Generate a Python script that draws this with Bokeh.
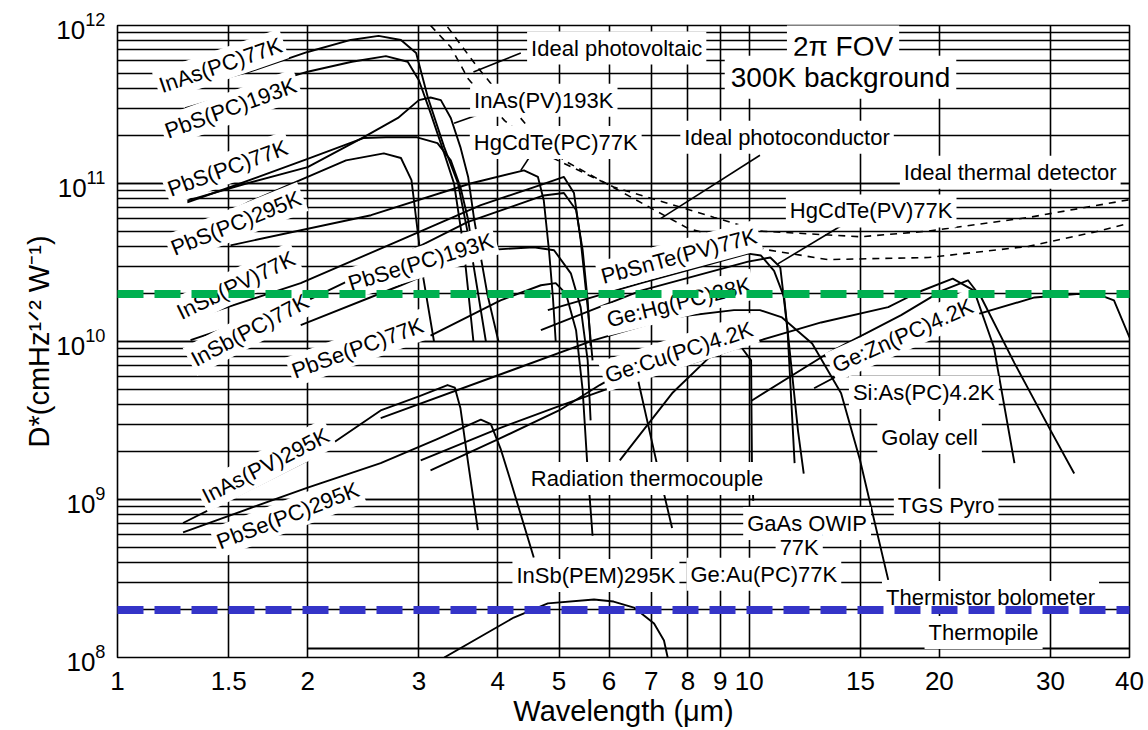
from bokeh.plotting import figure
from bokeh.models import Range1d, FixedTicker, NumeralTickFormatter, Label
from bokeh.embed import file_html
from bokeh.resources import INLINE

# ---------------- axes ----------------
x_ticks = [1, 1.5, 2, 3, 4, 5, 6, 7, 8, 9, 10, 15, 20, 30, 40]
x_range = (1, 40)
y_range = (1e8, 1e12)

# ---------------- detector curves: wavelength (um) / D* (cm Hz^1/2 W^-1) ----------------
inas_pc_77k_wl = [1.29, 1.62, 2.0, 2.34, 2.59, 2.81, 2.97, 3.10, 3.29, 3.46, 3.62, 3.83]
inas_pc_77k_d = [4.0e11, 5.1e11, 6.8e11, 8.1e11, 8.6e11, 8.1e11, 6.7e11, 3.5e11, 1.7e11, 1.0e11, 4.0e10, 1.0e10]

pbs_pc_193k_wl = [1.28, 1.6, 2.0, 2.35, 2.66, 2.88, 3.0, 3.13, 3.29, 3.41, 3.53, 3.66]
pbs_pc_193k_d = [3.0e11, 3.9e11, 5.1e11, 5.9e11, 6.4e11, 5.9e11, 4.5e11, 2.8e11, 1.55e11, 1.0e11, 4.0e10, 1.0e10]

inas_pv_193k_wl = [1.29, 1.6, 2.0, 2.45, 2.78, 3.0, 3.13, 3.25, 3.37, 3.49, 3.59, 3.67, 3.85, 4.01]
inas_pv_193k_d = [7.8e10, 1.0e11, 1.27e11, 1.96e11, 2.6e11, 3.37e11, 3.5e11, 3.37e11, 2.6e11, 1.7e11, 1.1e11, 5.9e10, 2.0e10, 1.0e10]

pbs_pc_77k_wl = [1.29, 1.51, 2.0, 2.45, 2.66, 2.98, 3.21, 3.37, 3.49, 3.59, 3.66]
pbs_pc_77k_d = [7.6e10, 9.5e10, 1.43e11, 1.94e11, 1.96e11, 1.96e11, 1.8e11, 1.4e11, 9.5e10, 5.9e10, 3.5e10]

pbs_pc_295k_wl = [1.30, 1.6, 2.0, 2.3, 2.64, 2.81, 2.92, 2.97, 3.05, 3.17]
pbs_pc_295k_d = [5.0e10, 7.5e10, 1.1e11, 1.4e11, 1.55e11, 1.45e11, 1.05e11, 6.0e10, 2.5e10, 1.0e10]

insb_pv_77k_wl = [1.29, 1.95, 2.81, 3.76, 4.68, 5.09, 5.28, 5.41, 5.55, 5.65]
insb_pv_77k_d = [1.36e10, 2.34e10, 4.4e10, 7.3e10, 9.8e10, 1.1e11, 8.7e10, 4.4e10, 1.65e10, 7.6e9]

insb_pc_77k_wl = [1.305, 2.0, 2.81, 3.58, 4.73, 5.09, 5.32, 5.45, 5.55, 5.61]
insb_pc_77k_d = [1.02e10, 1.82e10, 3.5e10, 5.7e10, 8.4e10, 8.7e10, 6.8e10, 3.78e10, 1.82e10, 9.4e9]

hgcdte_pc_77k_wl = [1.51, 2.52, 3.62, 4.4, 4.63, 4.73, 4.82, 4.89, 4.94]
hgcdte_pc_77k_d = [4.06e10, 6.3e10, 1.0e11, 1.21e11, 1.1e11, 7.8e10, 3.78e10, 1.9e10, 1.0e10]

pbse_pc_193k_wl = [1.95, 2.81, 3.8, 4.56, 4.91, 5.22, 5.41, 5.55, 5.61]
pbse_pc_193k_d = [1.27e10, 2.27e10, 3.78e10, 3.95e10, 3.78e10, 2.7e10, 1.65e10, 7.6e9, 3.17e9]

pbse_pc_77k_wl = [3.13, 4.04, 4.68, 4.94, 5.13, 5.32, 5.45, 5.55, 5.65]
pbse_pc_77k_d = [1.09e10, 1.82e10, 2.27e10, 2.34e10, 2.0e10, 1.18e10, 4.9e9, 1.53e9, 5.9e8]

hgcdte_pv_77k_wl = [4.68, 6.74, 9.96, 10.8, 11.2, 11.5, 11.8]
hgcdte_pv_77k_d = [1.18e10, 2.1e10, 3.2e10, 3.4e10, 2.95e10, 1.18e10, 1.7e9]

pbsnte_pv_77k_wl = [4.8, 6.74, 9.96, 10.44, 10.95, 11.36, 11.95, 12.2]
pbsnte_pv_77k_d = [1.58e10, 2.34e10, 3.6e10, 3.5e10, 2.8e10, 1.9e10, 2.7e9, 1.46e9]

gehg_pc_28k_wl = [2.61, 5.68, 7.55, 9.46, 10.4, 11.27, 12.58, 13.98, 14.98, 16.6]
gehg_pc_28k_d = [3.27e9, 1.02e10, 1.42e10, 1.58e10, 1.58e10, 1.42e10, 9.7e9, 4.7e9, 1.77e9, 3.1e8]

gecu_pc_4k_wl = [3.02, 4.0, 5.0, 6.2, 8.4, 10.44, 13.0, 16.6, 18.5, 21.0, 22.7, 24.4, 26.3]
gecu_pc_4k_d = [1.77e9, 2.8e9, 3.9e9, 5.3e9, 7.6e9, 1.02e10, 1.32e10, 1.65e10, 2.05e10, 2.5e10, 2.1e10, 9.2e9, 1.7e9]

sias_pc_4k_wl = [10.07, 13.3, 17.4, 20.2, 22.2, 23.3, 26.3, 30.0, 32.7]
sias_pc_4k_d = [4.2e9, 8.4e9, 1.47e10, 2.1e10, 2.44e10, 1.9e10, 7.3e9, 2.74e9, 1.46e9]

gezn_pc_4k_wl = [12.67, 18.9, 28.3, 33.0, 35.5, 37.8, 40.0]
gezn_pc_4k_d = [5.06e9, 1.18e10, 1.9e10, 2.0e10, 2.0e10, 1.82e10, 1.06e10]

inas_pv_295k_wl = [1.27, 2.0, 2.61, 3.0, 3.33, 3.42, 3.49, 3.59, 3.72]
inas_pv_295k_d = [7.1e8, 1.77e9, 3.66e9, 4.5e9, 5.3e9, 5.1e9, 3.8e9, 1.7e9, 6.4e8]

pbse_pc_295k_wl = [1.27, 2.0, 2.61, 3.2, 3.76, 3.9, 4.04, 4.17, 4.56]
pbse_pc_295k_d = [6.2e8, 1.19e9, 1.7e9, 2.4e9, 3.2e9, 3.0e9, 2.1e9, 1.4e9, 4.3e8]

insb_pem_295k_wl = [3.29, 4.24, 4.8, 5.68, 6.1, 6.57, 7.07, 7.33, 7.43]
insb_pem_295k_d = [1.0e8, 1.79e8, 2.2e8, 2.33e8, 2.26e8, 2.07e8, 1.64e8, 1.28e8, 1.0e8]

geau_pc_77k_wl = [3.13, 4.0, 5.0, 5.8, 6.3, 6.67, 7.14, 7.55]
geau_pc_77k_d = [1.53e9, 2.4e9, 3.66e9, 5.3e9, 6.4e9, 5.68e9, 1.7e9, 6.6e8]

gaas_qwip_77k_wl = [6.24, 7.55, 8.64, 9.7, 10.07, 10.1, 10.15]
gaas_qwip_77k_d = [1.77e9, 4.7e9, 7.9e9, 9.3e9, 7.6e9, 1.77e9, 9.8e8]

thermopile_wl = [2.0, 40.0]
thermopile_d = [1.14e8, 1.14e8]

# background-limited photon detectors (dashed)
ideal_pv_wl = [3.13, 3.37, 3.59, 4.1, 4.8, 6.1, 8.8, 10.4, 15.0, 19.2, 27.7, 40.0]
ideal_pv_d = [1.0e12, 7.3e11, 4.6e11, 2.5e11, 1.5e11, 9.5e10, 6.1e10, 5.0e10, 4.6e10, 5.0e10, 6.1e10, 7.9e10]

ideal_pc_wl = [3.33, 3.72, 3.9, 4.46, 5.09, 6.57, 8.0, 10.7, 13.3, 19.2, 27.7, 35.0, 40.0]
ideal_pc_d = [9.8e11, 5.4e11, 4.3e11, 2.3e11, 1.4e11, 8.0e10, 5.2e10, 3.8e10, 3.3e10, 3.4e10, 4.0e10, 4.9e10, 5.6e10]

# highlighted reference levels
level_wl = [1, 40]
level_high_d = [2.0e10, 2.0e10]
level_low_d = [2.0e8, 2.0e8]

# leader lines (label -> curve)
leader_wl = [[4.35, 3.66], [3.9, 3.41], [4.51, 4.35], [10.4, 7.24], [14.2, 11.1]]
leader_d = [[6.7e11, 5.07e11], [2.91e11, 2.41e11], [1.51e11, 1.21e11], [1.51e11, 6.0e10], [5.6e10, 3.1e10]]

# curve labels: text, wavelength, D*, angle (deg)
rotated_labels = [
    ("InAs(PC)77K", 1.456, 5.6e11, 19),
    ("PbS(PC)193K", 1.51, 3.0e11, 20),
    ("PbS(PC)77K", 1.494, 1.25e11, 20),
    ("PbS(PC)295K", 1.54, 5.6e10, 22),
    ("InSb(PV)77K", 1.54, 2.27e10, 26),
    ("InSb(PC)77K", 1.62, 1.18e10, 28),
    ("PbSe(PC)193K", 3.02, 3.18e10, 17),
    ("PbSe(PC)77K", 2.4, 9.1e9, 20),
    ("InAs(PV)295K", 1.716, 1.64e9, 27),
    ("PbSe(PC)295K", 1.86, 7.9e8, 21),
    ("PbSnTe(PV)77K", 7.74, 3.47e10, 15),
    ("Ge:Hg(PC)28K", 7.74, 1.77e10, 14),
    ("Ge:Cu(PC)4.2K", 7.74, 8.55e9, 18),
    ("Ge:Zn(PC)4.2K", 17.5, 1.09e10, 24),
]
flat_labels = [
    ("Ideal photovoltaic", 6.17, 7.2e11),
    ("InAs(PV)193K", 4.73, 3.37e11),
    ("HgCdTe(PC)77K", 4.94, 1.82e11),
    ("Ideal photoconductor", 11.48, 1.96e11),
    ("Ideal thermal detector", 25.9, 1.18e11),
    ("HgCdTe(PV)77K", 15.6, 6.7e10),
    ("Si:As(PC)4.2K", 18.9, 4.76e9),
    ("Golay cell", 19.3, 2.47e9),
    ("Radiation thermocouple", 6.89, 1.36e9),
    ("TGS Pyro", 20.5, 9.2e8),
    ("GaAs QWIP", 12.35, 7.06e8),
    ("77K", 12.0, 4.95e8),
    ("InSb(PEM)295K", 5.72, 3.3e8),
    ("Ge:Au(PC)77K", 10.55, 3.36e8),
    ("Thermistor bolometer", 24.1, 2.4e8),
    ("Thermopile", 23.5, 1.44e8),
]
title_labels = [
    ("2\u03c0 FOV", 14.08, 7.4e11),
    ("300K background", 13.95, 4.71e11),
]

solid_curves = [
    (inas_pc_77k_wl, inas_pc_77k_d),
    (pbs_pc_193k_wl, pbs_pc_193k_d),
    (inas_pv_193k_wl, inas_pv_193k_d),
    (pbs_pc_77k_wl, pbs_pc_77k_d),
    (pbs_pc_295k_wl, pbs_pc_295k_d),
    (insb_pv_77k_wl, insb_pv_77k_d),
    (insb_pc_77k_wl, insb_pc_77k_d),
    (hgcdte_pc_77k_wl, hgcdte_pc_77k_d),
    (pbse_pc_193k_wl, pbse_pc_193k_d),
    (pbse_pc_77k_wl, pbse_pc_77k_d),
    (hgcdte_pv_77k_wl, hgcdte_pv_77k_d),
    (pbsnte_pv_77k_wl, pbsnte_pv_77k_d),
    (gehg_pc_28k_wl, gehg_pc_28k_d),
    (gecu_pc_4k_wl, gecu_pc_4k_d),
    (sias_pc_4k_wl, sias_pc_4k_d),
    (gezn_pc_4k_wl, gezn_pc_4k_d),
    (inas_pv_295k_wl, inas_pv_295k_d),
    (pbse_pc_295k_wl, pbse_pc_295k_d),
    (insb_pem_295k_wl, insb_pem_295k_d),
    (geau_pc_77k_wl, geau_pc_77k_d),
    (gaas_qwip_77k_wl, gaas_qwip_77k_d),
    (thermopile_wl, thermopile_d),
]

FONT = "Liberation Sans"

p = figure(
    width=1148, height=730,
    x_axis_type="log", y_axis_type="log",
    x_range=Range1d(*x_range), y_range=Range1d(*y_range),
    output_backend="svg", toolbar_location=None,
    min_border_left=117, min_border_right=19,
    min_border_top=25, min_border_bottom=73,
)
p.background_fill_color = "white"
p.border_fill_color = "white"
p.outline_line_color = "black"
p.outline_line_width = 1.6

# grid: every labelled wavelength, every decade sub-division of D*
p.xaxis.ticker = FixedTicker(ticks=x_ticks)
p.xaxis.formatter = NumeralTickFormatter(format="0.[0]")
p.xgrid.grid_line_color = "black"
p.xgrid.grid_line_width = 1.6
p.xgrid.grid_line_alpha = 1.0
p.ygrid.grid_line_color = "black"
p.ygrid.grid_line_width = 1.6
p.ygrid.grid_line_alpha = 1.0
p.ygrid.minor_grid_line_color = "black"
p.ygrid.minor_grid_line_width = 1.6
p.ygrid.minor_grid_line_alpha = 1.0

for ax in (p.xaxis, p.yaxis):
    ax.axis_line_color = None
    ax.major_tick_line_color = None
    ax.minor_tick_line_color = None
    ax.major_label_text_font = FONT
    ax.major_label_text_font_size = "26px"
    ax.major_label_text_color = "black"
    ax.axis_label_text_font = FONT
    ax.axis_label_text_font_size = "29px"
    ax.axis_label_text_font_style = "normal"
    ax.axis_label_text_color = "black"

p.xaxis.axis_label = "Wavelength (\u03bcm)"
p.xaxis.major_label_standoff = 8
p.xaxis.axis_label_standoff = 2
p.yaxis.axis_label = "D*(cmHz\u00b9\u141f\u00b2 W\u207b\u00b9)"
p.yaxis.major_label_standoff = 6
p.yaxis.axis_label_standoff = -2

# detector curves
for wl, d in solid_curves:
    p.line(wl, d, line_color="black", line_width=1.9, line_join="round")

for wl, d in zip(leader_wl, leader_d):
    p.line(wl, d, line_color="black", line_width=1.6)

p.line(ideal_pv_wl, ideal_pv_d, line_color="black", line_width=1.6, line_dash="7 6")
p.line(ideal_pc_wl, ideal_pc_d, line_color="black", line_width=1.6, line_dash="7 6")

# labels with white boxes
for text, wl, d, ang in rotated_labels:
    p.add_layout(Label(x=wl, y=d, text=text, angle=ang, angle_units="deg",
                       text_align="center", text_baseline="middle",
                       text_font=FONT, text_font_size="22px", text_color="black",
                       background_fill_color="white", padding=3))
for text, wl, d in flat_labels:
    p.add_layout(Label(x=wl, y=d, text=text,
                       text_align="center", text_baseline="middle",
                       text_font=FONT, text_font_size="22px", text_color="black",
                       background_fill_color="white", padding=4))
for text, wl, d in title_labels:
    p.add_layout(Label(x=wl, y=d, text=text,
                       text_align="center", text_baseline="middle",
                       text_font=FONT, text_font_size="28px", text_color="black",
                       background_fill_color="white", padding=6))

# highlighted levels on top
g = p.line(level_wl, level_high_d, line_color="#00b050", line_width=8, line_dash="26 11")
g.level = "overlay"
b = p.line(level_wl, level_low_d, line_color="#3434c8", line_width=8, line_dash="26 11")
b.level = "overlay"

open("out.html", "w").write(file_html(p, INLINE))
